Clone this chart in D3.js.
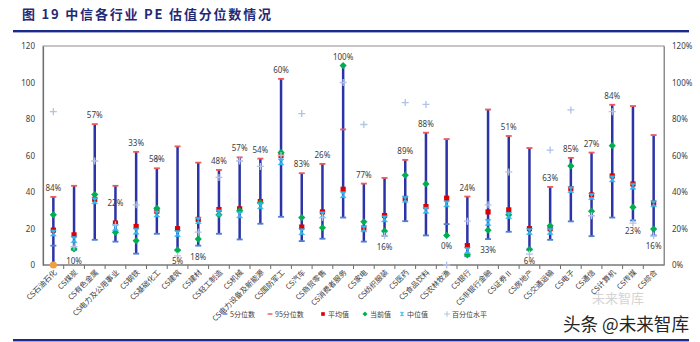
<!DOCTYPE html>
<html>
<head>
<meta charset="utf-8">
<script src="https://cdn.jsdelivr.net/npm/d3@7"></script>
<style>
  html, body { margin: 0; padding: 0; background: #fff; }
  svg { display: block; font-family: "Noto Sans CJK SC", "Noto Sans", sans-serif; }
</style>
</head>
<body>
<svg id="chart" width="700" height="342"></svg>
<script>
// CITIC level-1 industries
const categories = [
  "CS石油石化", "CS煤炭", "CS有色金属", "CS电力及公用事业", "CS钢铁", "CS基础化工",
  "CS建筑", "CS建材", "CS轻工制造", "CS机械", "CS电力设备及新能源", "CS国防军工",
  "CS汽车", "CS商贸零售", "CS消费者服务", "CS家电", "CS纺织服装", "CS医药",
  "CS食品饮料", "CS农林牧渔", "CS银行", "CS非银行金融", "CS证券Ⅱ", "CS房地产",
  "CS交通运输", "CS电子", "CS通信", "CS计算机", "CS传媒", "CS综合"
];

// PE statistics (left axis)
const p5 = [10.6, 8.3, 13.8, 12.8, 6.2, 17.1, 8.0, 10.6, 17.1, 14.0, 22.6, 26.4,
  13.1, 14.4, 26.0, 12.8, 16.0, 24.0, 16.2, 22.4, 4.8, 14.2, 18.2, 8.3,
  13.8, 23.9, 15.8, 26.0, 24.4, 16.2];
const p95 = [37.3, 43.4, 77.2, 43.4, 62.0, 53.0, 65.0, 56.1, 52.1, 59.0, 58.3, 102.0,
  50.3, 55.4, 74.3, 44.6, 47.7, 57.6, 72.5, 69.0, 37.5, 85.2, 70.7, 64.1,
  42.8, 58.7, 61.6, 87.8, 87.1, 71.2];
const meanPE = [19.1, 16.5, 36.0, 23.0, 21.1, 29.5, 19.9, 25.0, 30.4, 30.8, 34.8, 60.1,
  20.8, 29.1, 41.5, 20.2, 27.1, 36.5, 32.0, 36.6, 10.6, 29.1, 30.2, 19.9,
  19.9, 41.8, 38.4, 48.8, 44.4, 33.9];
const currentPE = [27.5, 8.8, 38.6, 17.9, 13.3, 31.1, 8.2, 14.2, 27.5, 29.7, 34.1, 61.7,
  26.0, 20.4, 109.3, 23.7, 18.6, 49.2, 44.4, 16.2, 5.6, 19.1, 27.5, 8.6,
  21.5, 54.3, 29.5, 65.4, 31.7, 19.7];
const medianPE = [17.5, 14.0, 35.2, 20.6, 18.5, 28.0, 17.2, 24.4, 28.6, 27.5, 32.4, 56.5,
  18.2, 27.5, 38.5, 19.8, 25.3, 36.0, 30.0, 33.5, 8.0, 23.3, 27.1, 18.4,
  18.4, 41.3, 37.5, 47.2, 43.2, 33.5];
// extra low point (石油石化)
const lowPoint = [0, null, null, null, null, null, null, null, null, null, null, null,
  null, null, null, null, null, null, null, null, null, null, null, null,
  null, null, null, null, null, null];

// percentile of current PE (right axis, %)
const percentile = [84, 10, 57, 22, 33, 58, 5, 18, 48, 57, 54, 60,
  83, 26, 100, 77, 16, 89, 88, 0, 24, 33, 51, 6,
  63, 85, 27, 84, 23, 16];

const leftTicks = [0, 20, 40, 60, 80, 100, 120];
const rightTicks = [0, 0.2, 0.4, 0.6, 0.8, 1.0, 1.2];

// where each percent label sits relative to its bar
const labelSide = ["up", "down", "up", "mid", "up", "up", "down", "down", "up", "up", "up", "up",
  "up", "up", "up", "up", "down", "up", "up", "down", "up", "down", "up", "down",
  "up", "up", "up", "up", "down", "down"];

const legendItems = [
  { key: "p5", text: "5分位数" },
  { key: "p95", text: "95分位数" },
  { key: "mean", text: "平均值" },
  { key: "cur", text: "当前值" },
  { key: "med", text: "中位值" },
  { key: "pct", text: "百分位水平" }
];

const svg = d3.select("#chart");
const W = 700, H = 342;
const plot = { left: 43, right: 664, top: 46, bottom: 265 };
const textColor = "#404040";
const colors = {
  line: "#2b33a6", p5: "#4f7fd6", p95: "#ee5a5a", mean: "#dd0000",
  cur: "#00b050", med: "#2fb8f0", pct: "#aec3e6", low: "#f0a040"
};

svg.append("rect").attr("width", W).attr("height", H).attr("fill", "#fff");

// heading and rules
svg.append("text")
  .attr("x", 22).attr("y", 19)
  .attr("font-size", 13).attr("font-weight", "bold").attr("fill", "#1f2a78")
  .attr("textLength", 249).attr("lengthAdjust", "spacing")
  .text("图 19 中信各行业 PE 估值分位数情况");
svg.append("rect").attr("x", 13).attr("y", 30).attr("width", 676).attr("height", 2.4).attr("fill", "#1c2a8c");
svg.append("rect").attr("x", 13).attr("y", 339).attr("width", 676).attr("height", 2.4).attr("fill", "#1c2a8c");

const x = d3.scaleBand().domain(categories).range([plot.left, plot.right]).paddingInner(0).paddingOuter(0);
const y = d3.scaleLinear().domain([0, 120]).range([plot.bottom, plot.top]);
const yR = d3.scaleLinear().domain([0, 1.2]).range([plot.bottom, plot.top]);

// plot frame
svg.append("rect")
  .attr("x", plot.left).attr("y", plot.top)
  .attr("width", plot.right - plot.left).attr("height", plot.bottom - plot.top)
  .attr("fill", "none").attr("stroke", "#8c8c8c").attr("stroke-width", 1);

// left axis
const gL = svg.append("g").attr("transform", `translate(${plot.left},0)`)
  .call(d3.axisLeft(y).tickValues(leftTicks).tickSize(0).tickPadding(8));
gL.select(".domain").attr("stroke", "#6e6e6e").attr("stroke-width", 1.2);
gL.selectAll("text").attr("font-size", 8).attr("fill", textColor).attr("font-family", "Noto Sans, sans-serif");

// right axis
const gR = svg.append("g").attr("transform", `translate(${plot.right},0)`)
  .call(d3.axisRight(yR).tickValues(rightTicks).tickSize(0).tickPadding(8).tickFormat(d3.format(".0%")));
gR.select(".domain").attr("stroke", "#8c8c8c");
gR.selectAll("text").attr("font-size", 8).attr("fill", textColor).attr("font-family", "Noto Sans, sans-serif");

// bottom axis with boundary ticks
const gB = svg.append("g").attr("transform", `translate(0,${plot.bottom})`);
gB.append("line").attr("x1", plot.left).attr("x2", plot.right).attr("stroke", "#6e6e6e").attr("stroke-width", 1.2);
gB.selectAll("line.tk").data(categories.slice(1)).join("line").attr("class", "tk")
  .attr("x1", d => x(d)).attr("x2", d => x(d)).attr("y1", 0).attr("y2", 4)
  .attr("stroke", "#6e6e6e");
gB.selectAll("text").data(categories).join("text")
  .attr("transform", d => `translate(${x(d) + x.bandwidth() / 2 + 4},${8}) rotate(-45)`)
  .attr("text-anchor", "end")
  .attr("font-size", 7.5).attr("fill", textColor)
  .text(d => d);

const rows = categories.map((c, i) => ({
  c, i, p5: p5[i], p95: p95[i], mean: meanPE[i], cur: currentPE[i], med: medianPE[i],
  low: lowPoint[i], pct: percentile[i], side: labelSide[i]
}));
rows.forEach(r => {
  const vals = [r.p5, r.p95, r.mean, r.cur, r.med].concat(r.low == null ? [] : [r.low]);
  r.min = d3.min(vals); r.max = d3.max(vals);
});
const cx = d => x(d.c) + x.bandwidth() / 2;

// high-low lines
svg.append("g").selectAll("line").data(rows).join("line")
  .attr("x1", cx).attr("x2", cx)
  .attr("y1", d => y(d.min)).attr("y2", d => y(d.max))
  .attr("stroke", colors.line).attr("stroke-width", 2.5);

// marker shapes
function dash(g, color) {
  g.append("rect").attr("x", -3).attr("y", -0.9).attr("width", 6).attr("height", 1.8).attr("fill", color);
}
function square(g, color) {
  g.append("rect").attr("x", -2.6).attr("y", -2.6).attr("width", 5.2).attr("height", 5.2).attr("fill", color);
}
function diamond(g, color) {
  g.append("path").attr("d", "M0,-3.6L3.6,0L0,3.6L-3.6,0Z").attr("fill", color);
}
function hourglass(g, color) {
  g.append("path").attr("d", "M-3,-3L3,-3L-3,3L3,3Z").attr("fill", color).attr("stroke", color).attr("stroke-width", 0.6);
}
function plus(g, color) {
  g.append("path").attr("d", "M-3.5,0H3.5M0,-3.5V3.5").attr("stroke", color).attr("stroke-width", 1.3);
}
function dot(g, color) {
  g.append("circle").attr("r", 3.6).attr("fill", color);
}

function drawSeries(key, scale, shape, color) {
  svg.append("g").selectAll("g").data(rows.filter(r => r[key] != null)).join("g")
    .attr("transform", d => `translate(${cx(d)},${scale(d[key])})`)
    .each(function () { shape(d3.select(this), color); });
}

drawSeries("low", y, dot, colors.low);
drawSeries("p5", y, dash, colors.p5);
drawSeries("p95", y, dash, colors.p95);
drawSeries("mean", y, square, colors.mean);
drawSeries("cur", y, diamond, colors.cur);
drawSeries("med", y, hourglass, colors.med);
svg.append("g").selectAll("g").data(rows).join("g")
  .attr("transform", d => `translate(${cx(d)},${yR(d.pct / 100)})`)
  .each(function () { plus(d3.select(this), colors.pct); });

// percent labels
svg.append("g").selectAll("text").data(rows).join("text")
  .attr("x", cx)
  .attr("y", d => {
    if (d.side === "up") return y(d.max) - 6;
    if (d.side === "down") return y(d.min) + 14;
    return y(d.p5 + 0.7 * (d.p95 - d.p5)) + 3;
  })
  .attr("text-anchor", "middle")
  .attr("font-size", 8).attr("fill", textColor)
  .attr("font-family", "Noto Sans, sans-serif")
  .text(d => d.pct + "%");

// legend
const lg = svg.append("g").attr("transform", "translate(0,317)");
const legendX = [225, 270, 323, 365, 402, 447];
const legendShapes = { p5: dash, p95: dash, mean: square, cur: diamond, med: hourglass, pct: plus };
legendItems.forEach((it, i) => {
  const g = lg.append("g").attr("transform", `translate(${legendX[i]},-3)`);
  const s = it.key === "mean" ? 0.7 : it.key === "cur" ? 0.7 : it.key === "med" ? 0.6 : 0.8;
  const inner = g.append("g").attr("transform", `scale(${s})`);
  legendShapes[it.key](inner, colors[it.key]);
  lg.append("text").attr("x", legendX[i] + 5).attr("y", 0)
    .attr("font-size", 7).attr("fill", textColor).text(it.text);
});

// source watermark
svg.append("text").attr("x", 618).attr("y", 303).attr("font-size", 13)
  .attr("fill", "#d4d4d4").attr("text-anchor", "middle").text("未来智库");
svg.append("text").attr("x", 563).attr("y", 331).attr("font-size", 18)
  .attr("textLength", 126).attr("lengthAdjust", "spacingAndGlyphs")
  .attr("fill", "#262626").text("头条 @未来智库");
</script>
</body>
</html>
